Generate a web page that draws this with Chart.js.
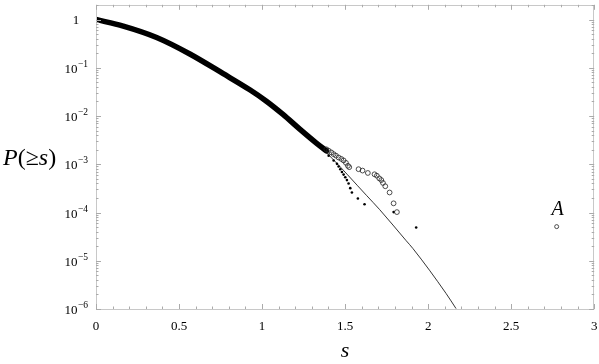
<!DOCTYPE html>
<html><head><meta charset="utf-8">
<script src="https://cdn.jsdelivr.net/npm/chart.js@4/dist/chart.umd.min.js"></script>
<style>html,body{margin:0;padding:0;background:#fff}#wrap{width:599px;height:364px;position:relative}canvas{display:block}</style>
</head><body><div id="wrap"><canvas id="c" width="599" height="364"></canvas></div>
<script>
// Main dense band of data (empirical CCDF, overlapping points)
const bandS = [0, 0.164, 0.365, 0.565, 0.766, 0.926, 1.026, 1.126, 1.227, 1.327, 1.387];
const bandP = [1, 0.73, 0.424, 0.193, 0.0755, 0.0350, 0.0203, 0.0108, 0.00535, 0.00275, 0.0019];
// Theoretical curve (thin line)
const theoryS = [0, 0.164, 0.365, 0.565, 0.766, 0.966, 1.126, 1.227, 1.327, 1.40, 1.63, 1.708, 1.868, 1.908, 2.108, 2.168];
const theoryP = [1, 0.73, 0.424, 0.193, 0.0755, 0.0295, 0.0107, 0.00525, 0.00270, 0.00158, 2.24e-4, 1.15e-4, 2.6e-5, 1.8e-5, 2.1e-6, 1.02e-6];
// Filled-dot series tail
const filledS = [1.401, 1.431, 1.451, 1.461, 1.471, 1.481, 1.491, 1.501, 1.511, 1.521, 1.531, 1.541, 1.577, 1.617, 1.792, 1.928];
const filledP = [1.51e-3, 1.20e-3, 1.02e-3, 9.0e-4, 7.9e-4, 6.9e-4, 6.1e-4, 5.4e-4, 4.7e-4, 4.0e-4, 3.2e-4, 2.6e-4, 1.95e-4, 1.48e-4, 1.02e-4, 4.9e-5];
// Open-circle series tail
const openS = [1.387, 1.401, 1.417, 1.431, 1.445, 1.461, 1.477, 1.491, 1.505, 1.517, 1.525, 1.581, 1.605, 1.637, 1.677, 1.691, 1.706, 1.718, 1.728, 1.742, 1.768, 1.792, 1.812];
const openP = [2.04e-3, 1.91e-3, 1.76e-3, 1.62e-3, 1.51e-3, 1.38e-3, 1.29e-3, 1.20e-3, 1.07e-3, 9.3e-4, 8.7e-4, 7.9e-4, 7.4e-4, 6.6e-4, 6.2e-4, 5.8e-4, 5.1e-4, 4.7e-4, 4.1e-4, 3.5e-4, 2.6e-4, 1.55e-4, 1.02e-4];
// Outlier point A
const outlierS = [2.774];
const outlierP = [5.1e-5];
const outlierLabel = 'A';
// Ticks
const xMajor = [0, 0.5, 1, 1.5, 2, 2.5, 3];
const xMajorLabels = ['0', '0.5', '1', '1.5', '2', '2.5', '3'];
const yMajorExp = [0, -1, -2, -3, -4, -5, -6];
const xTitle = 's';
const yTitleParts = [['P', true], ['(', false], ['\u2265', false], ['s', true], [')', false]];

function pts(xs, ys) { return xs.map((x, i) => ({x: x, y: ys[i]})); }

const SERIF = '"Liberation Serif", "DejaVu Serif", serif';

const framePlugin = {
  id: 'frame',
  afterDraw(chart) {
    const ctx = chart.ctx, a = chart.chartArea, xs = chart.scales.x, ys = chart.scales.y;
    ctx.save();
    ctx.strokeStyle = '#c8c8c8'; ctx.lineWidth = 1;
    ctx.strokeRect(Math.round(a.left) + 0.5, Math.round(a.top) + 0.5, Math.round(a.right - a.left) - 1, Math.round(a.bottom - a.top));
    ctx.strokeStyle = '#aaaaaa';
    for (let k = 0; k <= 30; k++) {
      const v = k / 10, px = Math.round(xs.getPixelForValue(v)) + 0.5;
      const len = (k % 5 === 0) ? 5 : 2.5;
      ctx.beginPath();
      ctx.moveTo(px, a.bottom); ctx.lineTo(px, a.bottom - len);
      ctx.moveTo(px, a.top); ctx.lineTo(px, a.top + len);
      ctx.stroke();
    }
    for (let e = -6; e <= 0; e++) {
      for (let m = 1; m <= 9; m++) {
        const v = m * Math.pow(10, e);
        if (v > ys.max || v < ys.min) continue;
        const py = Math.round(ys.getPixelForValue(v)) + 0.5;
        const len = (m === 1) ? 5 : 2.5;
        ctx.beginPath();
        ctx.moveTo(a.left, py); ctx.lineTo(a.left + len, py);
        ctx.moveTo(a.right, py); ctx.lineTo(a.right - len, py);
        ctx.stroke();
      }
    }
    ctx.fillStyle = '#000';
    ctx.font = '13px ' + SERIF;
    ctx.textAlign = 'center'; ctx.textBaseline = 'alphabetic';
    xMajor.forEach((v, i) => {
      ctx.fillText(xMajorLabels[i], xs.getPixelForValue(v), a.bottom + 21);
    });
    const cx = 76;
    yMajorExp.forEach(e => {
      const py = ys.getPixelForValue(Math.pow(10, e));
      if (e === 0) {
        ctx.font = '13px ' + SERIF; ctx.textAlign = 'center';
        ctx.fillText('1', cx, py + 4.5);
        return;
      }
      ctx.font = '13px ' + SERIF;
      const w1 = ctx.measureText('10').width;
      ctx.font = '9.5px ' + SERIF;
      const es = '\u2212' + Math.abs(e);
      const w2 = ctx.measureText(es).width;
      const x0 = cx - (w1 + w2) / 2;
      ctx.textAlign = 'left';
      ctx.font = '13px ' + SERIF;
      ctx.fillText('10', x0, py + 5);
      ctx.font = '9.5px ' + SERIF;
      ctx.fillText(es, x0 + w1 + 0.5, py - 1);
    });
    ctx.textAlign = 'left';
    ctx.font = 'italic 22px ' + SERIF;
    const tw = ctx.measureText(xTitle).width;
    ctx.fillText(xTitle, (a.left + a.right) / 2 - tw / 2, 357);
    let tx = 3;
    const ty = 165;
    yTitleParts.forEach(([t, it]) => {
      ctx.font = (it ? 'italic ' : '') + '24px ' + SERIF;
      ctx.fillText(t, tx, ty);
      tx += ctx.measureText(t).width;
    });
    ctx.font = 'italic 20px ' + SERIF;
    ctx.textAlign = 'center';
    ctx.fillText(outlierLabel, xs.getPixelForValue(outlierS[0]) + 1, ys.getPixelForValue(outlierP[0]) - 12);
    ctx.restore();
  }
};

new Chart(document.getElementById('c'), {
  type: 'scatter',
  data: {
    datasets: [
      { label: 'theory', data: pts(theoryS, theoryP), showLine: true, borderColor: '#000', borderWidth: 0.8, pointRadius: 0, cubicInterpolationMode: 'monotone', order: 5 },
      { label: 'band', data: pts(bandS, bandP), showLine: true, borderColor: '#000', borderWidth: 5.5, pointRadius: 0, cubicInterpolationMode: 'monotone', borderCapStyle: 'round', borderJoinStyle: 'round', order: 4 },
      { label: 'filled', data: pts(filledS, filledP), showLine: false, pointRadius: 1.3, pointBackgroundColor: '#000', pointBorderWidth: 0, order: 3 },
      { label: 'open', data: pts(openS, openP), showLine: false, pointRadius: 2.4, pointBackgroundColor: 'rgba(255,255,255,0)', pointBorderColor: '#222', pointBorderWidth: 0.8, order: 2 },
      { label: 'A', data: pts(outlierS, outlierP), showLine: false, pointRadius: 2, pointBackgroundColor: 'rgba(255,255,255,0)', pointBorderColor: '#222', pointBorderWidth: 0.8, order: 1 }
    ]
  },
  options: {
    responsive: false, animation: false, devicePixelRatio: 1,
    layout: { padding: { left: 96, right: 4, top: 1, bottom: 55 } },
    scales: {
      x: { type: 'linear', min: 0, max: 3, display: false },
      y: { type: 'logarithmic', min: 1e-6, max: 2.02, display: false }
    },
    plugins: { legend: { display: false }, tooltip: { enabled: false } },
    clip: 0
  },
  plugins: [framePlugin]
});
</script></body></html>
